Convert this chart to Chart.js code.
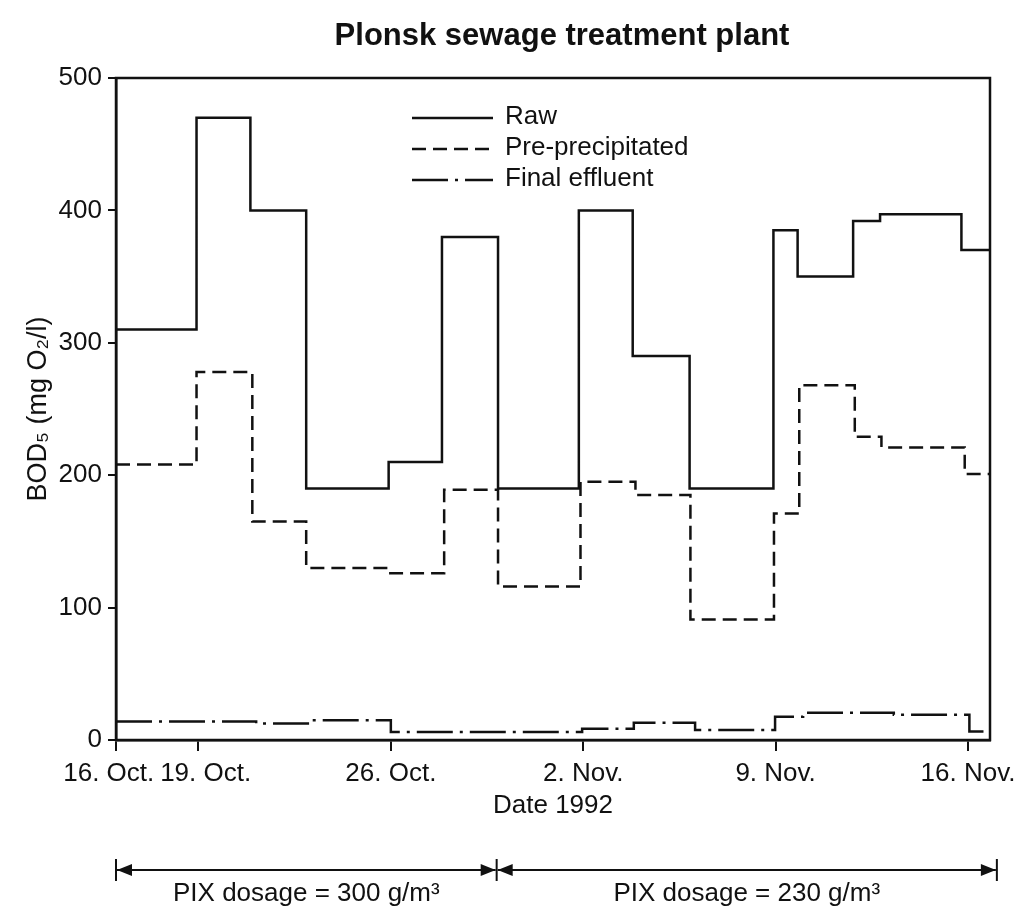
<!DOCTYPE html>
<html>
<head>
<meta charset="utf-8">
<title>Plonsk sewage treatment plant</title>
<script src="https://cdn.jsdelivr.net/npm/chart.js@4.4.1/dist/chart.umd.min.js"></script>
<style>
  html, body { margin: 0; padding: 0; background: #fff; }
  #wrap { width: 1027px; height: 909px; }
</style>
</head>
<body>
<div id="wrap"><canvas id="canvas" width="1027" height="909"></canvas></div>
<script>
// x values are days after 16 Oct 1992
const tickDays = [0, 3, 10, 17, 24, 31];
// the first two labels sit a little apart in the original, hence the spaces
const tickLabels = ['16. Oct.\u00a0\u00a0', '\u00a0\u00a019. Oct.', '26. Oct.', '2. Nov.', '9. Nov.', '16. Nov.'];

const rawDays   = [0, 2.93, 4.89, 6.92, 9.92, 11.86, 13.9, 16.84, 18.8, 20.87, 23.92, 24.8, 26.82, 27.8, 30.76, 31.8];
const rawValues = [310, 470, 400, 190, 210, 380, 190, 400, 290, 190, 385, 350, 392, 397, 370, 370];

const preDays   = [0, 2.93, 4.96, 6.92, 9.89, 11.94, 13.9, 16.9, 18.9, 20.9, 23.94, 24.86, 26.88, 27.85, 30.88, 31.8];
const preValues = [208, 278, 165, 130, 126, 189, 116, 195, 185, 91, 171, 268, 229, 221, 201, 201];

const effDays   = [0, 5.1, 6.98, 10, 16.96, 18.84, 21.07, 23.98, 25, 28.3, 31.05, 31.8];
const effValues = [14, 12.5, 15, 6, 8.5, 13, 7.5, 17.5, 20.5, 19, 6.5, 6.5];

const seriesNames = ['Raw', 'Pre-precipitated', 'Final effluent'];

const dosageBounds = [0, 13.85, 32.05];
const dosageLabels = ['PIX dosage = 300 g/m³', 'PIX dosage = 230 g/m³'];

const ink = '#111';
const family = "'Liberation Sans', Arial, Helvetica, sans-serif";
Chart.defaults.font.family = family;
Chart.defaults.color = ink;

function steps(days, values){
  return days.map((d, i) => ({x: d, y: values[i]}));
}

const extras = {
  id: 'extras',
  afterDraw(chart){
    const {ctx, chartArea: a, scales: {x}} = chart;
    ctx.save();
    // frame round the plot
    ctx.strokeStyle = ink;
    ctx.lineWidth = 2.5;
    ctx.strokeRect(a.left, a.top, a.right - a.left, a.bottom - a.top);

    // title
    ctx.fillStyle = ink;
    ctx.font = 'bold 31px ' + family;
    ctx.textAlign = 'center';
    ctx.textBaseline = 'middle';
    ctx.fillText('Plonsk sewage treatment plant', (a.left + a.right) / 2 + 9, 36);

    // legend inside the plot
    ctx.font = '26px ' + family;
    ctx.textAlign = 'left';
    chart.data.datasets.forEach((ds, i) => {
      const y = a.top + 40 + i * 31;
      ctx.beginPath();
      ctx.setLineDash(ds.borderDash || []);
      ctx.lineWidth = 2.5;
      ctx.moveTo(a.left + 296, y);
      ctx.lineTo(a.left + 377, y);
      ctx.stroke();
      ctx.setLineDash([]);
      ctx.fillText(ds.label, a.left + 389, y - 1);
    });

    // PIX dosage arrows under the axis
    const ay = 870;
    const px = dosageBounds.map(v => x.getPixelForValue(v));
    ctx.lineWidth = 2;
    px.forEach(p => {
      ctx.beginPath();
      ctx.moveTo(p, ay - 11);
      ctx.lineTo(p, ay + 11);
      ctx.stroke();
    });
    ctx.textAlign = 'center';
    for (let i = 0; i < px.length - 1; i++) {
      const x0 = px[i] + 1, x1 = px[i + 1] - 1;
      ctx.beginPath();
      ctx.moveTo(x0, ay);
      ctx.lineTo(x1, ay);
      ctx.stroke();
      ctx.beginPath();
      ctx.moveTo(x0, ay);
      ctx.lineTo(x0 + 15, ay - 6);
      ctx.lineTo(x0 + 15, ay + 6);
      ctx.closePath();
      ctx.fill();
      ctx.beginPath();
      ctx.moveTo(x1, ay);
      ctx.lineTo(x1 - 15, ay - 6);
      ctx.lineTo(x1 - 15, ay + 6);
      ctx.closePath();
      ctx.fill();
      ctx.fillText(dosageLabels[i], (px[i] + px[i + 1]) / 2, ay + 24);
    }
    ctx.restore();
  }
};

const common = {
  stepped: true,
  borderColor: ink,
  borderWidth: 2.5,
  pointRadius: 0,
  fill: false
};

new Chart(document.getElementById('canvas'), {
  type: 'line',
  plugins: [extras],
  data: {
    datasets: [
      Object.assign({label: seriesNames[0], data: steps(rawDays, rawValues), borderDash: []}, common),
      Object.assign({label: seriesNames[1], data: steps(preDays, preValues), borderDash: [14, 7]}, common),
      Object.assign({label: seriesNames[2], data: steps(effDays, effValues), borderDash: [36, 7, 3, 7]}, common)
    ]
  },
  options: {
    responsive: false,
    animation: false,
    layout: { padding: { left: 0, right: 37, top: 78, bottom: 0 } },
    plugins: {
      legend: { display: false },
      title: { display: false },
      tooltip: { enabled: false }
    },
    scales: {
      x: {
        type: 'linear',
        min: 0,
        max: 31.8,
        afterBuildTicks: s => { s.ticks = tickDays.map(v => ({value: v})); },
        afterFit: s => { s.height = 169; },
        grid: { drawOnChartArea: false, drawTicks: true, tickLength: 11, color: ink, lineWidth: 2 },
        border: { display: true, color: ink, width: 2.5 },
        ticks: {
          autoSkip: false,
          maxRotation: 0,
          padding: 7,
          color: ink,
          font: { size: 26 },
          callback: (v, i) => tickLabels[i]
        },
        title: {
          display: true,
          text: 'Date 1992',
          color: ink,
          font: { size: 26 },
          padding: { top: 0, bottom: 88 }
        }
      },
      y: {
        min: 0,
        max: 500,
        afterFit: s => { s.width = 116; },
        grid: { drawOnChartArea: false, drawTicks: true, tickLength: 8, color: ink, lineWidth: 2 },
        border: { display: true, color: ink, width: 2.5 },
        ticks: {
          stepSize: 100,
          padding: 6,
          color: ink,
          font: { size: 26 }
        },
        title: {
          display: true,
          text: 'BOD₅ (mg O₂/l)',
          color: ink,
          font: { size: 27 },
          padding: { top: 22, bottom: 0 }
        }
      }
    }
  }
});
</script>
</body>
</html>
